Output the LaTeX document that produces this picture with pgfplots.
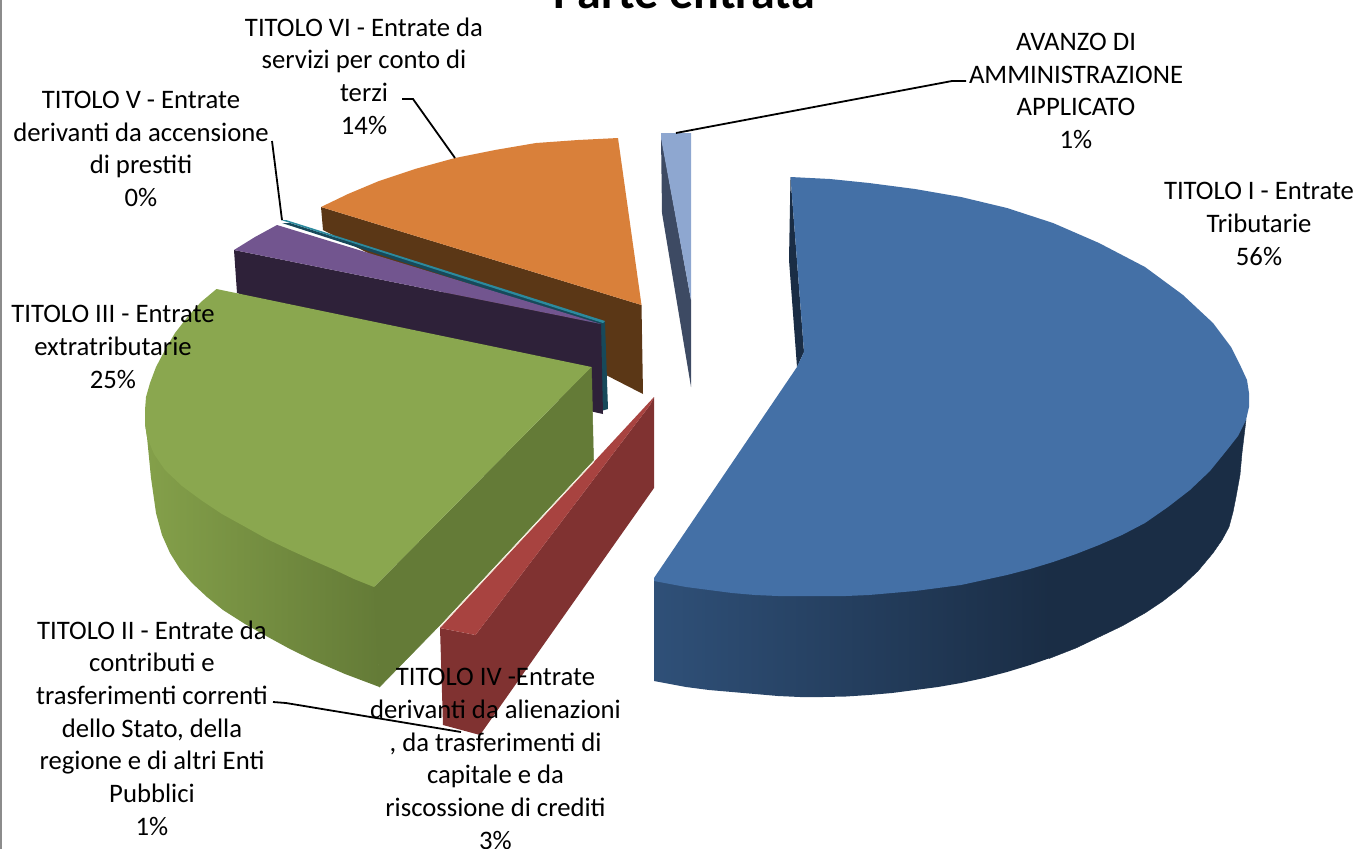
\documentclass[border=0pt]{standalone}
\usepackage{pgfplots}
\pgfplotsset{compat=1.18}
\usepackage{fontspec}
\setmainfont{Carlito}
\definecolor{blueT}{HTML}{4470A6}
\definecolor{blueL}{HTML}{2F5078}
\definecolor{blueD}{HTML}{1A2D45}
\definecolor{sky}{HTML}{8EA7D0}
\definecolor{skyD}{HTML}{3D4A63}
\definecolor{orT}{HTML}{D9803A}
\definecolor{orD}{HTML}{5B3716}
\definecolor{teT}{HTML}{2C8A9E}
\definecolor{teD}{HTML}{17495A}
\definecolor{puT}{HTML}{72558F}
\definecolor{puD}{HTML}{2E2139}
\definecolor{grT}{HTML}{8AA74F}
\definecolor{grL}{HTML}{84A04A}
\definecolor{grD}{HTML}{647B37}
\definecolor{reT}{HTML}{A84340}
\definecolor{reD}{HTML}{803231}
\definecolor{cream}{HTML}{F3E6D2}
\tikzset{lab/.style={align=center,font=\fontsize{26.7}{32.7}\selectfont,inner sep=0pt}}
\begin{document}
\begin{tikzpicture}
\path[use as bounding box] (0,0) rectangle (1358pt,849pt);
\begin{axis}[
  at={(0,0)},anchor=south west,
  width=1358pt,height=849pt,scale only axis,
  xmin=0,xmax=1358,ymin=0,ymax=849,y dir=reverse,
  hide axis,clip=true,clip mode=global]
% left frame
\addplot[draw=none,fill=black!45] coordinates {(0,0)(2.2,0)(2.2,849)(0,849)};
% orange slice (TITOLO VI)
\addplot[draw=none,fill=orD] coordinates {(321,207)(323,230)(643,394)(641.5,305)};
\addplot[draw=none,fill=orT] coordinates {(321,207)(348,194)(379,181)(415,169)(455,158)(495,150)(536,143)(578,140)(618,138)(641.5,305)};
% teal slice (TITOLO V)
\addplot[draw=none,fill=teD] coordinates {(282,223)(290,223)(605,322)(608,409)(601,411)(600,326)};
\addplot[draw=none,fill=teT] coordinates {(281,220)(286,220)(605,321)(603,323)};
% purple slice (TITOLO II)
\addplot[draw=none,fill=puD] coordinates {(234,250)(237,293)(594,412)(603,414)(601,324)};
\addplot[draw=none,fill=puT] coordinates {(277,225)(255,237)(234,250)(601,324)};
% green slice (TITOLO III)
\addplot[draw=none,left color=grL,right color=grD] coordinates {(145,424)(147,437)(151,478)(156,513)(162,535)(170,553)(180,569)(192,583)(207,597)(223,610)(245,624)(268,637)(290,649)(312.5,660)(345,674)(379.5,687)(376,587)(335,560)(290,540)(245.5,517)(201,490)(165,460)};
\addplot[draw=grD,line width=0.5pt,fill=grD] coordinates {(591.5,367)(593.5,460)(440,625)(379.5,687)(374,587)};
\addplot[draw=none,fill=grT] coordinates {(216.5,289)(201,302)(187.5,317)(175,333)(165,350)(156,367)(150,383)(146,397)(145,410)(145,424)(147,437)(154,454)(165,470)(182,486)(201,500)(222,514)(245.5,527)(267,539)(290,550)(312,560)(335,570)(354,579)(374,587)(591.5,367)};
% red slice (TITOLO IV)
\addplot[draw=none,fill=reD] coordinates {(475.5,635)(650,405)(654,397)(654,488)(480,735)(443,725)(440,628)};
\addplot[draw=none,fill=reT] coordinates {(440,628)(654,397)(650,405)(475.5,635)};
\addplot[cream,line width=0.9pt] coordinates {(440,627)(594,461.5)};
% light blue slice (AVANZO)
\addplot[draw=none,fill=skyD] coordinates {(661,136)(662,213)(691,387)(691,300)};
\addplot[draw=none,fill=sky] coordinates {(661,133)(691,133)(691,300)(661,138)};
% blue slice (TITOLO I)
\addplot[draw=none,fill=blueD] coordinates {(790.5,177)(789,260)(797,367)(804,352)};
\addplot[draw=none,left color=blueL,right color=blueD] coordinates {(654,580)(654,681)(670,684)(686,687)(709,690)(732,692)(755,694)(778,696)(800,697)(823,697)(846,696.5)(869,695)(892,693)(915,690)(938,687)(961,683)(984,678)(1007,672)(1030,665)(1050,658)(1050,555)};
\addplot[draw=blueD,line width=0.4pt,fill=blueD] coordinates {(1049,555)(1049,658.5)(1053,657)(1076,648)(1099,637)(1122,626)(1145,613)(1163,601)(1181,587)(1198,571)(1213,553)(1222,540)(1229,527)(1233,512)(1236,497)(1240,475)(1242,453)(1246,420)(1227,440)(1190,480)(1145,513)(1099,535)};
\addplot[draw=none,fill=blueT] coordinates {(790.5,177)(830,179)(869,183)(915,189)(961,197)(1007,208)(1053,223)(1099,243)(1145,267)(1183,295)(1213,323)(1231,347)(1241,367)(1247,380)(1249,393)(1249,407)(1246,420)(1238,436)(1227,450)(1210,471)(1190,490)(1168,507)(1145,523)(1122,535)(1099,545)(1076,554)(1053,562)(1030,569)(1007,575)(984,580)(961,585)(938,588)(915,591)(892,593)(869,595)(846,596)(823,596)(800,596)(778,596)(755,595)(732,593)(709,590)(686,587)(670,584)(654,581)(654,578)(797,367)(804,352)};
% leader lines
\addplot[black,line width=1.8pt] coordinates {(402,99)(413,99)(455,158)};
\addplot[black,line width=1.8pt] coordinates {(272,141)(282,220)};
\addplot[black,line width=1.8pt] coordinates {(966,81)(952,81)(676,133)};
\addplot[black,line width=1.8pt] coordinates {(273,702)(286,703)(461,732)};
% labels
\node[lab] at (axis cs:364,76) {TITOLO VI - Entrate da\\servizi per conto di\\terzi\\14\%};
\node[lab] at (axis cs:141,149) {TITOLO V - Entrate\\derivanti da accensione\\di prestiti\\0\%};
\node[lab] at (axis cs:113,347) {TITOLO III - Entrate\\extratributarie\\25\%};
\node[lab] at (axis cs:1076,91) {AVANZO DI\\AMMINISTRAZIONE\\APPLICATO\\1\%};
\node[lab] at (axis cs:1259,224) {TITOLO I - Entrate\\Tributarie\\56\%};
\node[lab] at (axis cs:152,728) {TITOLO II - Entrate da\\contributi e\\trasferimenti correnti\\dello Stato, della\\regione e di altri Enti\\Pubblici\\1\%};
\node[lab] at (axis cs:495.5,759) {TITOLO IV -Entrate\\derivanti da alienazioni\\, da trasferimenti di\\capitale e da\\riscossione di crediti\\3\%};
\node[font=\fontsize{48}{56}\selectfont\bfseries,inner sep=0pt,anchor=base] at (axis cs:684,8) {Parte entrata};
\end{axis}
\end{tikzpicture}
\end{document}
